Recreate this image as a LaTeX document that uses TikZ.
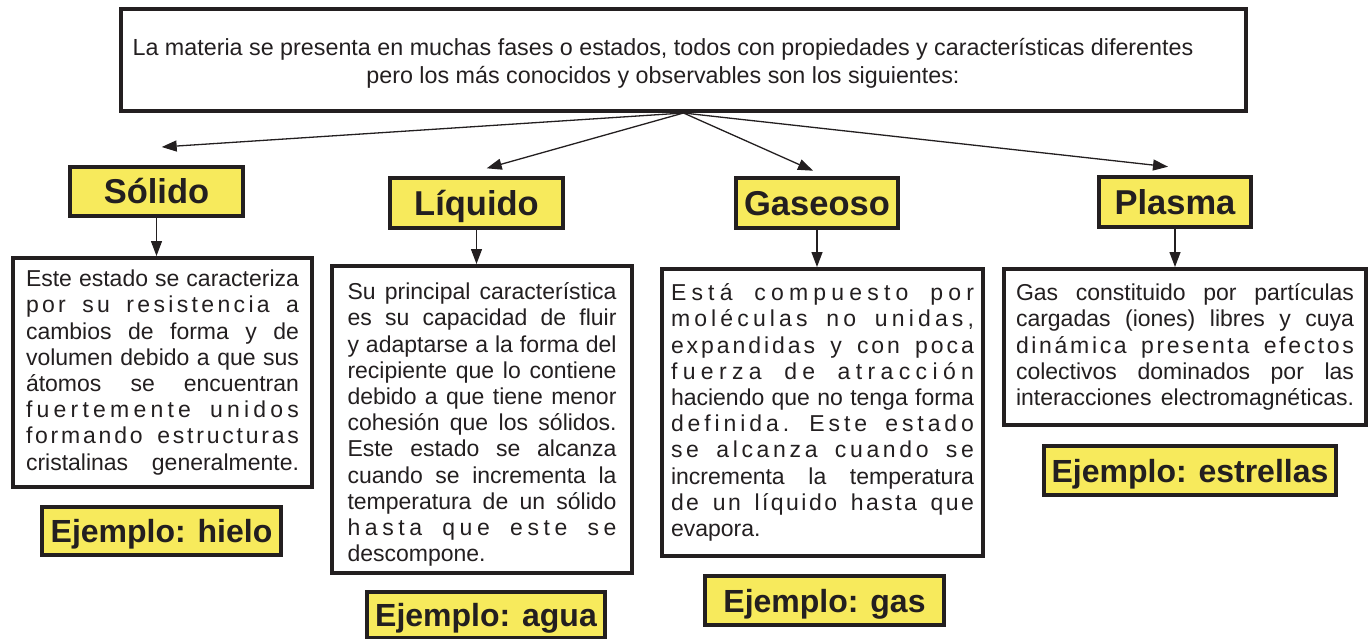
\documentclass[tikz,border=0pt]{standalone}
\usepackage{fontspec}
\setmainfont{Liberation Sans}
\usetikzlibrary{arrows.meta}
\definecolor{ink}{RGB}{35,31,32}
\definecolor{yel}{RGB}{247,234,92}

\ExplSyntaxOn
\seq_new:N \l__mx_words_seq
\tl_new:N \l__mx_out_tl
\NewDocumentCommand \SPL { m }
  {
    \seq_set_split:Nnn \l__mx_words_seq { ~ } { #1 }
    \tl_clear:N \l__mx_out_tl
    \seq_map_indexed_inline:Nn \l__mx_words_seq
      {
        \int_compare:nNnF { ##1 } = { 1 }
          { \tl_put_right:Nn \l__mx_out_tl { \hfil \c_space_tl \hfil } }
        \tl_map_inline:nn { ##2 }
          { \tl_put_right:Nn \l__mx_out_tl { ####1 \hfil } }
      }
    \hbox_to_wd:nn { \hsize } { \spaceskip=0pt \xspaceskip=0pt \l__mx_out_tl \unskip }
  }
\ExplSyntaxOff
\newcommand\JL[1]{\hbox to \hsize{\spaceskip=0pt\xspaceskip=0pt\relax #1}}
\newcommand\NL[1]{\hbox{#1}}
\newcommand\tightlines{\lineskiplimit=-20pt\relax}

\begin{document}
\begin{tikzpicture}[x=1pt,y=-1pt,
  box/.style={draw=ink, line width=4pt, inner sep=0pt, text=ink},
  head/.style={box, fill=yel, font=\fontsize{34.5}{40}\selectfont\bfseries, text height=24.7pt, text depth=0pt},
  ex/.style={box, fill=yel, font=\fontsize{32}{38}\selectfont\bfseries, text height=23pt, text depth=0pt},
  body/.style={box, fill=white, font=\fontsize{23}{26.2}\selectfont},
  arr/.style={draw=ink, line width=1.3pt, -{Triangle[length=15pt,width=11pt]}},
]
\useasboundingbox (0,0) rectangle (1371,638);

\node[box, minimum width=1125pt, minimum height=102pt, font=\fontsize{23.3}{28}\selectfont] (top) at (683.5,60)
  {\kern-41pt\begin{tabular}{@{}c@{}}\rule{0pt}{27pt}La materia se presenta en muchas fases o estados, todos con propiedades y características diferentes\\pero los más conocidos y observables son los siguientes:\end{tabular}};

\node[head, minimum width=173pt, minimum height=49pt] (h1) at (156.5,191.5) {Sólido};
\node[head, minimum width=173pt, minimum height=50pt] (h2) at (476.5,203) {Líquido};
\node[head, minimum width=162pt, minimum height=50pt] (h3) at (817,203) {Gaseoso};
\node[head, minimum width=152pt, minimum height=50pt] (h4) at (1175,202) {Plasma};

\node[body, text width=273pt, minimum width=299pt, minimum height=229pt] (t1) at (162.5,372.5) {\tightlines
\JL{Este estado se caracteriza}
\SPL{por su resistencia a}
\JL{cambios de forma y de}
\JL{volumen debido a que sus}
\JL{átomos se encuentran}
\SPL{fuertemente unidos}
\SPL{formando estructuras}
\JL{cristalinas generalmente.}};

\node[body, text width=269pt, minimum width=300pt, minimum height=307pt] (t2) at (482,419.5) {\tightlines
\JL{\rule{0pt}{27pt}Su principal característica}
\JL{es su capacidad de fluir}
\JL{y adaptarse a la forma del}
\JL{recipiente que lo contiene}
\JL{debido a que tiene menor}
\JL{cohesión que los sólidos.}
\JL{Este estado se alcanza}
\JL{cuando se incrementa la}
\JL{temperatura de un sólido}
\SPL{hasta que este se}
\NL{descompone.}};

\node[body, text width=303pt, minimum width=321pt, minimum height=287pt] (t3) at (822.5,412.5) {\tightlines
\SPL{Está compuesto por}
\SPL{moléculas no unidas,}
\SPL{expandidas y con poca}
\SPL{fuerza de atracción}
\JL{haciendo que no tenga forma}
\SPL{definida. Este estado}
\SPL{se alcanza cuando se}
\JL{incrementa la temperatura}
\SPL{de un líquido hasta que}
\NL{evapora.}};

\node[body, text width=338pt, minimum width=362pt, minimum height=156pt] (t4) at (1185,347) {\tightlines
\JL{Gas constituido por partículas}
\JL{cargadas (iones) libres y cuya}
\SPL{dinámica presenta efectos}
\JL{colectivos dominados por las}
\JL{interacciones electromagnéticas.}};

\node[ex, minimum width=239pt, minimum height=48pt] (x1) at (161.5,531) {Ejemplo: hielo};
\node[ex, minimum width=238pt, minimum height=46pt] (x2) at (486,615) {Ejemplo: agua};
\node[ex, minimum width=239pt, minimum height=49pt] (x3) at (824.5,600.5) {Ejemplo: gas};
\node[ex, minimum width=292pt, minimum height=49pt] (x4) at (1190,470.5) {Ejemplo: estrellas};

\coordinate (e1) at (161.7,147);
\coordinate (e2) at (486.7,168.3);
\coordinate (e3) at (813,170.7);
\coordinate (e4) at (1168,166.7);

\draw[arr] (top.south) -- (e1);
\draw[arr] (top.south) -- (e2);
\draw[arr] (top.south) -- (e3);
\draw[arr] (top.south) -- (e4);

\draw[arr] (h1.south) -- (h1.south |- t1.north);
\draw[arr] (h2.south) -- (h2.south |- t2.north);
\draw[arr] (h3.south) -- (h3.south |- t3.north);
\draw[arr] (h4.south) -- (h4.south |- t4.north);
\end{tikzpicture}
\end{document}
